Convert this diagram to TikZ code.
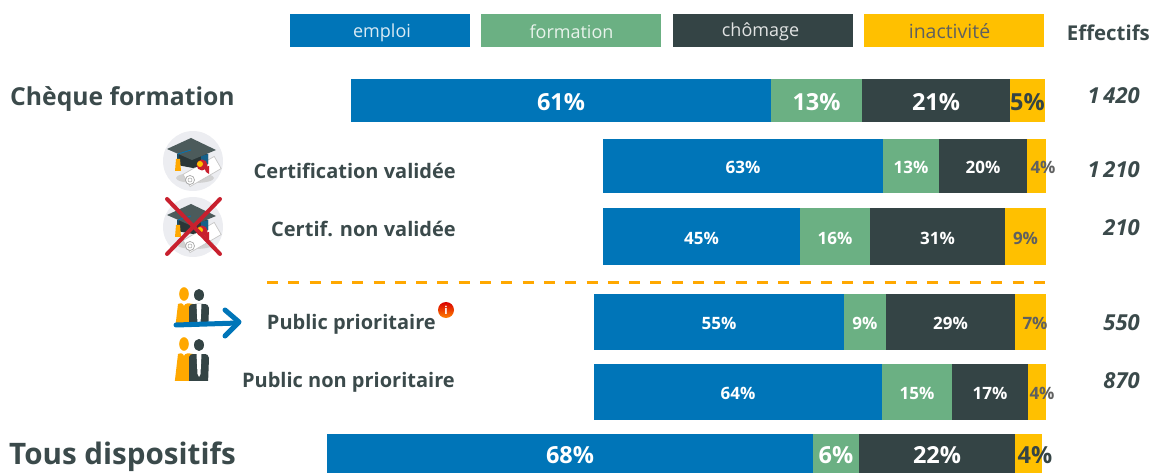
\documentclass[tikz,border=0pt]{standalone}
\usepackage{fontspec}
\setmainfont{Open Sans}
\definecolor{cemploi}{HTML}{0075B8}
\definecolor{cform}{HTML}{6BB083}
\definecolor{cchom}{HTML}{344445}
\definecolor{cinact}{HTML}{FFC000}
\definecolor{ctxt}{HTML}{3B4A4B}
\definecolor{cgrey}{HTML}{5F6060}
\definecolor{corange}{HTML}{FFA800}
\definecolor{ccircle}{HTML}{ECEDF1}
\definecolor{cred}{HTML}{C8202E}
\tikzset{
 x=1pt,y=-1pt,
 seg/.style={inner sep=0pt,font=\bfseries},
 leg/.style={inner sep=0pt,font=\fontsize{18}{18}\selectfont,minimum width=180pt,minimum height=33pt},
 legtxt/.style={inner sep=0pt,font=\fontsize{18}{18}\selectfont},
 rowlabel/.style={inner sep=0pt,text=ctxt,font=\bfseries\fontsize{20}{20}\selectfont,anchor=east},
 biglabel/.style={inner sep=0pt,text=ctxt,anchor=west},
 eff/.style={inner sep=0pt,text=ctxt,font=\bfseries\itshape\fontsize{22}{22}\selectfont,anchor=east},
}
\newcommand{\barrow}[9]{%
 \def\Ya{#1}\def\Yb{#2}\def\Xa{#3}\def\Xb{#4}\def\Xc{#5}\def\Xd{#6}\def\Xe{#7}\def\Fs{#8}\def\Pa{#9}\barrowB}
\newcommand{\barrowB}[4]{%
 \fill[cemploi] (\Xa,\Ya) rectangle (\Xb,\Yb);
 \fill[cform] (\Xb,\Ya) rectangle (\Xc,\Yb);
 \fill[cchom] (\Xc,\Ya) rectangle (\Xd,\Yb);
 \fill[cinact] (\Xd,\Ya) rectangle (\Xe,\Yb);
 \path ({(\Xa+\Xb)/2},{(\Ya+\Yb)/2+1.5}) node[seg,text=white,font=\bfseries\fontsize{\Fs}{\Fs}\selectfont] {\Pa};
 \path ({(\Xb+\Xc)/2},{(\Ya+\Yb)/2+1.5}) node[seg,text=white,font=\bfseries\fontsize{\Fs}{\Fs}\selectfont] {#1};
 \path ({(\Xc+\Xd)/2},{(\Ya+\Yb)/2+1.5}) node[seg,text=white,font=\bfseries\fontsize{\Fs}{\Fs}\selectfont] {#2};
 \path (\Xd,{(\Ya+\Yb)/2+1.5}) ++(#4,0) node[seg,text=cgrey,font=\bfseries\fontsize{\Fs}{\Fs}\selectfont] {#3};
}
\newcommand{\capicon}[2]{%
 \begin{scope}[shift={(#1,#2)}]
  \fill[ccircle] (0,0) circle (30);
  \fill[black!18] (2,17) ellipse (19 and 5);
  \fill[white,draw=black!22,line width=.7pt,rotate around={30:(10,10)}] (-9,3) rectangle (27,17);
  \draw[black!35,fill=white,line width=.7pt] (-3,19) circle (4.5);
  \draw[black!35,line width=.5pt] (-3,19) circle (2);
  \fill[cchom!80!black] (-16,-7) -- (15,-7) -- (15,3) -- (0,7) -- (-16,4) -- cycle;
  \fill[cemploi!60!cchom] (8,-5) -- (15,-7) -- (15,3) -- (8,5) -- cycle;
  \fill[cchom!88] (-26,-12) -- (-2,-23) -- (23,-11) -- (-1,-1) -- cycle;
  \draw[cemploi,line width=.8pt] (-2,-11) -- (-15,-7) -- (-15,-2);
  \fill[corange] (-17,-2) -- (-13,-2) -- (-12,10) -- (-18,10) -- cycle;
  \fill[cred] (9,4) circle (5.5);
  \fill[cinact] (7,3) circle (3);
  \fill[cred] (11,6) -- (16,5) -- (16,13) -- (13,11) -- cycle;
 \end{scope}}
\newcommand{\personicon}[3]{%
 \begin{scope}
  \clip (170,{#2-15}) rectangle (215,#3);
  \begin{scope}[shift={(#1,#2)}]
  \fill[corange] (0,0) ellipse (4.8 and 6.8);
  \fill[corange] (-6,10) .. controls (-3,9) and (-1,9) .. (0,12) .. controls (1,9) and (4,9) .. (9,10) -- (12,40) -- (-9.5,40) -- cycle;
  \fill[cchom] (15,1) ellipse (5 and 6);
  \fill[cchom] (5,13) .. controls (5,10) and (8,10) .. (11,10) -- (19,10) .. controls (23,10) and (25,11) .. (25,14) -- (24,40) -- (5,40) -- cycle;
  \fill[white] (12.5,10) -- (17.5,10) -- (16.5,30) -- (15,33) -- (13.5,30) -- cycle;
  \end{scope}
 \end{scope}}
\begin{document}
\begin{tikzpicture}[x=1pt,y=-1pt]
\useasboundingbox (0,0) rectangle (1152,473);
% legend
\node[leg,fill=cemploi] (lemploi) at (380,30.5) {};
\node[leg,fill=cform] (lform) at (571,30.5) {};
\node[leg,fill=cchom] (lchom) at (763,30.5) {};
\node[leg,fill=cinact] (linact) at (954,30.5) {};
\node[legtxt,text=white!85!cemploi] (temploi) at (382,33) {emploi};
\node[legtxt,text=white!85!cform] (tform) at (571.5,31.5) {formation};
\node[legtxt,text=white!85!cchom] (tchom) at (760.5,32) {chômage};
\node[legtxt,text=cgrey,font=\fontsize{19.5}{19.5}\selectfont] (tinact) at (949.5,31.5) {inactivité};
\node[inner sep=0pt,text=ctxt,font=\bfseries\fontsize{20.4}{20.4}\selectfont,anchor=east] (effh) at (1150,33) {Effectifs};
% bars
\barrow{79}{122}{351}{771}{862}{1010}{1045}{23.5}{61\%}{13\%}{21\%}{\textcolor{cchom}{5\%}}{17.5}
\barrow{139}{193}{603}{883}{939}{1027}{1046}{17}{63\%}{13\%}{20\%}{4\%}{16}
\barrow{208}{265}{603}{800}{870}{1005}{1046}{17}{45\%}{16\%}{31\%}{9\%}{20.5}
\barrow{294}{350}{594}{844}{886}{1015}{1046}{17}{55\%}{9\%}{29\%}{7\%}{20}
\barrow{364}{420}{594}{882}{952}{1028}{1046}{17}{64\%}{15\%}{17\%}{4\%}{14}
\barrow{434}{473}{327}{813}{859}{1015}{1042}{23.5}{68\%}{6\%}{22\%}{\textcolor{cchom}{4\%}}{20}
% labels
\node[biglabel,font=\bfseries\fontsize{24.7}{24.7}\selectfont] (lcheque) at (10,99) {Chèque formation};
\node[rowlabel] (lcert) at (456,171) {Certification validée};
\node[rowlabel] (lnon) at (456,229) {Certif. non validée};
\node[rowlabel] (lprio) at (436,324.5) {Public prioritaire};
\node[rowlabel] (lnprio) at (455,382.5) {Public non prioritaire};
\node[biglabel,font=\bfseries\fontsize{29.6}{29.6}\selectfont] (ltous) at (9,456.5) {Tous dispositifs};
% effectifs
\node[eff] (e1) at (1140,96) {1\,420};
\node[eff] (e2) at (1140,170) {1\,210};
\node[eff] (e3) at (1140,228) {210};
\node[eff] (e4) at (1140,323) {550};
\node[eff] (e5) at (1140,381) {870};
% dashed separator
\draw[corange,line width=3pt,dash pattern=on 11pt off 10.3pt] (267,283) -- (1046,283);
% icons
\capicon{193}{161}
\capicon{193}{227}
\draw[cred,line width=4pt,line cap=round] (167,199) -- (220,254);
\draw[cred,line width=4pt,line cap=round] (220,199) -- (167,254);
\personicon{184}{294}{325}
\personicon{184}{344}{380}
\draw[cemploi,line width=5pt,line cap=round] (176,325) -- (238,323);
\draw[cemploi,line width=5pt,line cap=round,line join=round] (225,310) -- (239,322) -- (225,336);
% info badge
\shade[top color=red!85!black,bottom color=orange] (446,310) circle (8);
\node[inner sep=0pt,text=white,font=\bfseries\fontsize{11}{11}\selectfont] (info) at (446,310) {i};
\end{tikzpicture}
\end{document}
